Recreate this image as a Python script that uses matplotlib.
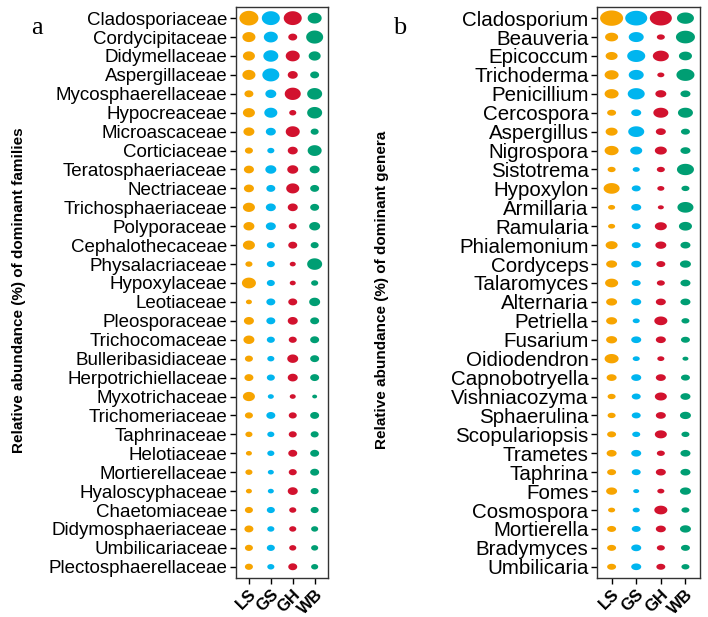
import matplotlib
matplotlib.use("Agg")
import matplotlib.pyplot as plt
import numpy as np
from matplotlib.path import Path

groups = ["LS", "GS", "GH", "WB"]
colors = ["#F7A400", "#00B5EF", "#D2122E", "#009E73"]

families = ["Cladosporiaceae", "Cordycipitaceae", "Didymellaceae", "Aspergillaceae",
            "Mycosphaerellaceae", "Hypocreaceae", "Microascaceae", "Corticiaceae",
            "Teratosphaeriaceae", "Nectriaceae", "Trichosphaeriaceae", "Polyporaceae",
            "Cephalothecaceae", "Physalacriaceae", "Hypoxylaceae", "Leotiaceae",
            "Pleosporaceae", "Trichocomaceae", "Bulleribasidiaceae", "Herpotrichiellaceae",
            "Myxotrichaceae", "Trichomeriaceae", "Taphrinaceae", "Helotiaceae",
            "Mortierellaceae", "Hyaloscyphaceae", "Chaetomiaceae", "Didymosphaeriaceae",
            "Umbilicariaceae", "Plectosphaerellaceae"]

fam_LS = [18.0, 8.5, 7.2, 8.5, 4.0, 7.2, 6.0, 3.2, 5.0, 5.0, 7.2, 6.0, 7.2, 2.5, 9.8,
          1.8, 5.0, 6.0, 3.2, 4.0, 7.2, 3.2, 2.5, 1.8, 2.5, 1.8, 3.2, 4.0, 3.2, 3.2]
fam_GS = [16.2, 9.8, 11.2, 14.4, 6.0, 8.5, 5.0, 2.5, 6.0, 4.0, 5.0, 5.0, 3.2, 3.2, 3.2,
          4.0, 4.0, 3.2, 2.5, 3.2, 1.8, 4.0, 2.5, 2.5, 1.8, 1.8, 3.2, 2.5, 3.2, 2.5]
fam_GH = [16.2, 4.0, 9.8, 5.0, 12.8, 2.5, 9.8, 5.0, 6.0, 8.5, 5.0, 3.2, 4.0, 1.8, 1.8,
          4.0, 5.0, 3.2, 6.0, 5.0, 1.8, 3.2, 3.2, 4.0, 3.2, 5.0, 2.5, 2.5, 2.5, 4.0]
fam_WB = [9.8, 14.4, 7.2, 4.0, 11.2, 11.2, 3.2, 9.8, 5.0, 4.0, 4.0, 6.0, 3.2, 11.2, 2.5,
          6.0, 4.0, 4.0, 4.0, 4.0, 1.2, 4.0, 3.2, 4.0, 4.0, 3.2, 3.2, 2.5, 2.5, 2.5]

genera = ["Cladosporium", "Beauveria", "Epicoccum", "Trichoderma", "Penicillium",
          "Cercospora", "Aspergillus", "Nigrospora", "Sistotrema", "Hypoxylon",
          "Armillaria", "Ramularia", "Phialemonium", "Cordyceps", "Talaromyces",
          "Alternaria", "Petriella", "Fusarium", "Oidiodendron", "Capnobotryella",
          "Vishniacozyma", "Sphaerulina", "Scopulariopsis", "Trametes", "Taphrina",
          "Fomes", "Cosmospora", "Mortierella", "Bradymyces", "Umbilicaria"]

gen_LS = [26.4, 8.5, 7.2, 9.8, 9.8, 4.0, 7.2, 9.8, 3.2, 12.8, 2.5, 2.5, 7.2, 6.0, 8.5,
          6.0, 6.0, 6.0, 9.8, 5.0, 3.2, 3.2, 4.0, 5.0, 4.0, 6.0, 2.5, 4.0, 4.0, 4.0]
gen_GS = [24.2, 11.2, 16.2, 11.2, 14.4, 5.0, 12.8, 7.2, 2.5, 4.0, 5.0, 4.0, 4.0, 5.0, 4.0,
          5.0, 2.5, 5.0, 2.5, 5.0, 4.0, 4.0, 3.2, 5.0, 4.0, 1.8, 2.5, 4.0, 5.0, 5.0]
gen_GH = [24.2, 3.2, 12.8, 2.5, 6.0, 11.2, 5.0, 7.2, 3.2, 2.5, 1.8, 7.2, 6.0, 4.0, 3.2,
          5.0, 8.5, 5.0, 2.5, 5.0, 7.2, 5.0, 7.2, 3.2, 5.0, 2.5, 8.5, 5.0, 3.2, 4.0]
gen_WB = [14.4, 18.0, 8.5, 16.2, 5.0, 11.2, 4.0, 5.0, 14.4, 3.2, 12.8, 8.5, 5.0, 6.0, 5.0,
          5.0, 3.2, 4.0, 1.8, 4.0, 5.0, 6.0, 3.2, 5.0, 5.0, 6.0, 3.2, 6.0, 4.0, 3.2]


def ellipse_marker(aspect):
    t = np.linspace(0, 2 * np.pi, 72)
    verts = np.column_stack([aspect * np.cos(t), np.sin(t)])
    return Path(verts, closed=True)


def bubble_panel(fig, rect, names, cols, aspect, lab_size, ylabel, letter, label_x):
    ax = fig.add_axes(rect)
    marker = ellipse_marker(aspect)
    y = np.arange(len(names))
    for i, vals in enumerate(cols):
        ax.scatter(np.full(len(names), i), y, s=np.array(vals) * 10.4,
                   marker=marker, color=colors[i], linewidths=0, zorder=3)
    ax.set_xlim(-0.6, 3.6)
    ax.set_ylim(len(names) - 0.4, -0.6)
    ax.set_yticks(y)
    ax.set_yticklabels(names, fontsize=lab_size, family="Liberation Sans")
    ax.set_xticks(range(4))
    ax.set_xticklabels(groups, rotation=45, ha="right", rotation_mode="anchor",
                       fontsize=12, fontweight="bold", family="Liberation Sans")
    ax.tick_params(length=4, width=1, pad=2)
    for sp in ax.spines.values():
        sp.set_linewidth(1)
        sp.set_color("#333333")
    fig.text(label_x, 0.53, ylabel, rotation=90, va="center", ha="center",
             fontsize=11, fontweight="bold", family="Liberation Sans")
    fig.text(label_x + 0.025, 0.945, letter, fontsize=19,
             family="Liberation Serif", ha="center")
    return ax


fig = plt.figure(figsize=(7.08, 6.17), dpi=100)

bubble_panel(fig, [0.333, 0.063, 0.130, 0.926], families,
             [fam_LS, fam_GS, fam_GH, fam_WB], 1.3, 13.5,
             "Relative abundance (%) of dominant families", "a", 0.027)
bubble_panel(fig, [0.843, 0.063, 0.146, 0.926], genera,
             [gen_LS, gen_GS, gen_GH, gen_WB], 1.5, 14.8,
             "Relative abundance (%) of dominant genera", "b", 0.54)

fig.savefig("out.png", dpi=100)
